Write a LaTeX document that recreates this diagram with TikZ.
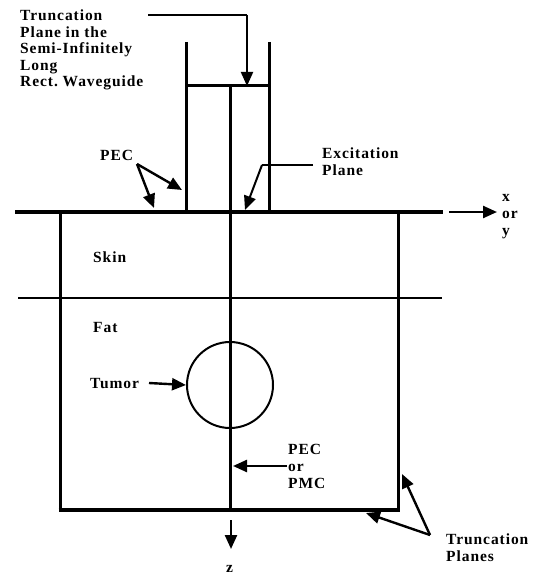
\documentclass[tikz,border=0pt]{standalone}
\usepackage{fontspec}
\setmainfont{Liberation Serif}[LetterSpace=6]
\usetikzlibrary{arrows.meta}
\begin{document}
\begin{tikzpicture}[x=1pt,y=-1pt,
  lbl/.style={font=\fontsize{15.5}{17}\selectfont\bfseries,inner sep=0pt,anchor=base west,align=left},
  wall/.style={line width=3pt},
  plane/.style={line width=3.6pt},
  thin/.style={line width=1.3pt},
  arr/.style={line width=2.4pt,-{Triangle[length=14pt,width=12pt]}},
]
\useasboundingbox (0,0) rectangle (536,575);
% geometry coordinates
\coordinate (wgL) at (186,42);
\coordinate (wgR) at (269,42);
\coordinate (cTop) at (230,86);
\coordinate (bL) at (60,510);
\coordinate (bR) at (398,510);
% PEC plane
\draw[plane] (15,212) -- (443,212);
% waveguide walls
\draw[wall] (wgL) -- (186,212);
\draw[wall] (wgR) -- (269,212);
\draw[wall] (186,86) -- (269,86);
% box
\draw[wall] (60,212) -- (bL);
\draw[wall] (398,212) -- (bR);
\draw[plane] (58.5,510) -- (399.5,510);
% skin/fat boundary
\draw[thin] (18,298) -- (442,298);
% centre line
\draw[wall] (cTop) -- (230,510);
% tumor
\node[draw,circle,line width=2pt,minimum size=86pt,inner sep=0pt] (tumor) at (230,385) {};
% x-axis arrow
\coordinate (xs) at (449,212);
\coordinate (xe) at (497,212);
\draw[arr] (xs) -- (xe);
\node[lbl] (xlab) at (502,235) {x\\or\\y};
% z axis arrow
\coordinate (zs) at (231,520);
\coordinate (ze) at (231,549);
\draw[arr] (zs) -- (ze);
\node[lbl] (zlab) at (226,572) {z};
% top label
\node[lbl,font=\fontsize{15.5}{16.5}\selectfont\bfseries] (trunc) at (20,87) {Truncation\\Plane in the\\Semi-Infinitely\\Long\\Rect.\ Waveguide};
\coordinate (t1) at (148,15);
\coordinate (t2) at (247,15);
\coordinate (t3) at (247,86);
\draw[line width=2pt] (t1) -- (t2);
\draw[arr,line width=2pt] (t2) -- (t3);
% PEC
\node[lbl] (pec) at (100,160) {PEC};
\coordinate (p0) at (137,164);
\coordinate (p1) at (154,208);
\coordinate (p2) at (182,190);
\draw[arr] (p0) -- (p1);
\draw[arr] (p0) -- (p2);
% Excitation plane
\node[lbl] (exc) at (322,175) {Excitation\\Plane};
\coordinate (e0) at (313,165);
\coordinate (e1) at (262,165);
\coordinate (e2) at (245,210);
\draw[line width=2pt] (e0) -- (e1);
\draw[arr,line width=2pt] (e1) -- (e2);
% layers
\node[lbl] (skin) at (93,262) {Skin};
\node[lbl] (fat) at (93,332) {Fat};
\node[lbl] (tum) at (90,388) {Tumor};
\coordinate (ta) at (149,383);
\draw[arr] (ta) -- (tumor.west);
% PEC or PMC
\node[lbl] (pmc) at (288,488) {PEC\\or\\PMC};
\coordinate (m0) at (287,466);
\coordinate (m1) at (233,466);
\draw[arr] (m0) -- (m1);
% truncation planes
\node[lbl] (tp) at (446,561) {Truncation\\Planes};
\coordinate (q0) at (430,535);
\coordinate (q1) at (366,513);
\coordinate (q2) at (402,474);
\draw[arr] (q0) -- (q1);
\draw[arr] (q0) -- (q2);
\end{tikzpicture}
\end{document}
